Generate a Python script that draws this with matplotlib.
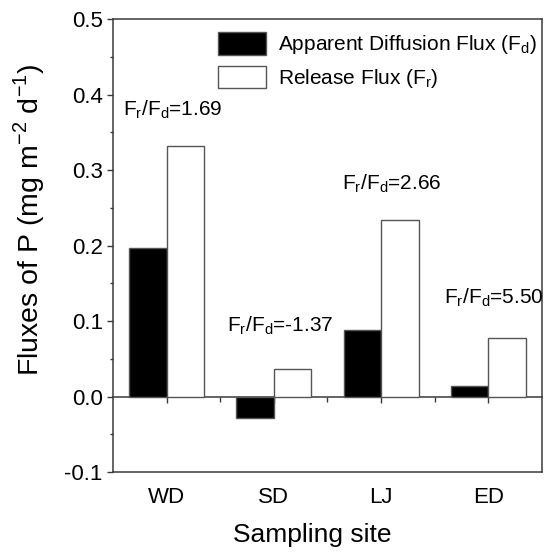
import numpy as np
import matplotlib.pyplot as plt
from matplotlib.ticker import MultipleLocator, FixedLocator, NullFormatter

plt.rcParams['font.family'] = ['Liberation Sans', 'DejaVu Sans']
plt.rcParams['mathtext.fontset'] = 'custom'
plt.rcParams['mathtext.rm'] = 'Liberation Sans'

sites = ['WD', 'SD', 'LJ', 'ED']
diffusion_flux = [0.197, -0.028, 0.088, 0.014]
release_flux = [0.332, 0.037, 0.234, 0.077]
ratio_labels = ['1.69', '-1.37', '2.66', '5.50']
ratio_pos = [(0.596, 0.372), (1.560, 0.0854), (2.632, 0.2736), (3.589, 0.1235)]

edge = '#555555'
spine = '#3a3a3a'

fig = plt.figure(figsize=(5.49, 5.53), dpi=100)
ax = fig.add_axes([0.206, 0.1465, 0.781, 0.8186])

x = np.arange(1, len(sites) + 1)
w = 0.35
ax.bar(x - w / 2, diffusion_flux, w, color='black', edgecolor=edge, linewidth=1,
       label=r'Apparent Diffusion Flux ($\mathregular{F_d}$)', zorder=2)
ax.bar(x + w / 2, release_flux, w, color='white', edgecolor=edge, linewidth=1,
       label=r'Release Flux ($\mathregular{F_r}$)', zorder=2)

for (px, py), r in zip(ratio_pos, ratio_labels):
    ax.text(px, py, r'$\mathregular{F_r/F_d}$=' + r, fontsize=15, ha='left', va='baseline')

ax.set_xlim(0.5, 4.5)
ax.set_ylim(-0.1, 0.5)

for s in ax.spines.values():
    s.set_color(spine)
    s.set_linewidth(1.1)

ax.yaxis.set_minor_locator(MultipleLocator(0.05))
ax.set_yticks(np.arange(-0.1, 0.51, 0.1))
ax.set_yticklabels(['-0.1', '0.0', '0.1', '0.2', '0.3', '0.4', '0.5'])
ax.tick_params(axis='y', which='major', direction='out', length=4.5, width=1, color=spine,
               labelsize=16, pad=3)
ax.tick_params(axis='y', which='minor', direction='out', length=2.5, width=1, color=spine)

ax.set_xticks(x)
ax.set_xticklabels(sites)
ax.tick_params(axis='x', which='both', length=0, labelsize=16, pad=11)

# zero line carrying the x ticks
sec = ax.secondary_xaxis(1 / 6)
sec.spines['bottom'].set_color(spine)
sec.spines['bottom'].set_linewidth(1.1)
sec.xaxis.set_major_locator(FixedLocator(x))
sec.xaxis.set_minor_locator(FixedLocator([1.5, 2.5, 3.5]))
sec.xaxis.set_major_formatter(NullFormatter())
sec.tick_params(which='major', direction='out', length=4.5, width=1, color=spine)
sec.tick_params(which='minor', direction='out', length=3.5, width=1, color=spine)

ax.set_xlabel('Sampling site', fontsize=19)
ax.xaxis.set_label_coords(0.464, -0.112)
ax.set_ylabel(r'Fluxes of P (mg m$^{\mathregular{-2}}$ d$^{\mathregular{-1}}$)', fontsize=20.5)
ax.yaxis.set_label_coords(-0.155, 0.558)

ax.legend(loc='upper left', bbox_to_anchor=(0.2455, 0.972), frameon=False, fontsize=15,
          handlelength=2.27, handleheight=1.3, handletextpad=0.6, labelspacing=0.45,
          borderpad=0, borderaxespad=0)

fig.savefig('out.png', dpi=100)
